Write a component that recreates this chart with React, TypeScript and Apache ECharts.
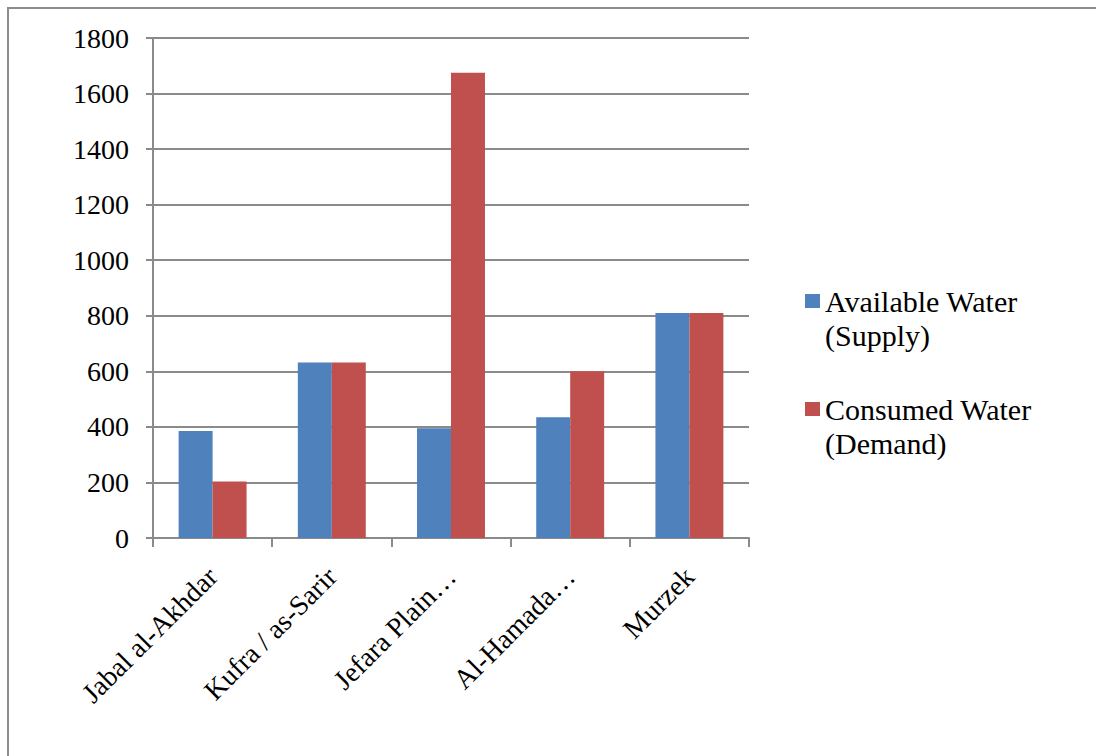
import React, { useEffect, useRef } from "react";
import * as echarts from "echarts";

const regions = ["Jabal al-Akhdar", "Kufra / as-Sarir", "Jefara Plain…", "Al-Hamada…", "Murzek"];
const supply = [385, 632, 395, 435, 810];
const demand = [203, 632, 1675, 600, 810];
const supplyName = "Available Water\n(Supply)";
const demandName = "Consumed Water\n(Demand)";

const FONT = "'Times New Roman', 'Liberation Serif', serif";
const GRID_GRAY = "#8a8a8a";

export default function App() {
  const ref = useRef<HTMLDivElement>(null);

  useEffect(() => {
    if (!ref.current) return;
    const chart = echarts.init(ref.current, undefined, { renderer: "svg" });
    chart.setOption({
      animation: false,
      backgroundColor: "#ffffff",
      textStyle: { fontFamily: FONT },
      graphic: [
        {
          type: "rect",
          shape: { x: 8, y: 8, width: 1100, height: 760 },
          style: { fill: "none", stroke: "#8c8c8c", lineWidth: 2 },
          silent: true,
        },
      ],
      grid: { left: 153, right: 347, top: 38, bottom: 218, containLabel: false },
      legend: {
        orient: "vertical",
        left: 800,
        top: 245,
        itemWidth: 15,
        itemHeight: 14,
        itemGap: 6,
        icon: "rect",
        // a leading blank line keeps the marker level with the first text line
        formatter: (name: string) => "\n" + name,
        textStyle: {
          fontFamily: FONT,
          fontSize: 30,
          lineHeight: 34,
          color: "#000",
        },
        data: [supplyName, demandName],
      },
      xAxis: {
        type: "category",
        data: regions,
        axisLine: { lineStyle: { color: GRID_GRAY, width: 2 } },
        axisTick: { show: true, length: 9, lineStyle: { color: GRID_GRAY, width: 2 } },
        axisLabel: {
          rotate: 45,
          interval: 0,
          margin: 34,
          fontFamily: FONT,
          fontSize: 28,
          color: "#000",
        },
      },
      yAxis: {
        type: "value",
        min: 0,
        max: 1800,
        interval: 200,
        axisLine: { show: true, lineStyle: { color: GRID_GRAY, width: 2 } },
        axisTick: { show: true, length: 7, lineStyle: { color: GRID_GRAY, width: 2 } },
        splitLine: { show: true, lineStyle: { color: GRID_GRAY, width: 2 } },
        axisLabel: {
          margin: 24,
          fontFamily: FONT,
          fontSize: 28,
          color: "#000",
          formatter: (v: number) => String(v),
        },
      },
      series: [
        {
          name: supplyName,
          type: "bar",
          data: supply,
          barGap: "0%",
          barCategoryGap: "43%",
          itemStyle: { color: "#4F81BD" },
        },
        {
          name: demandName,
          type: "bar",
          data: demand,
          barGap: "0%",
          barCategoryGap: "43%",
          itemStyle: { color: "#C0504D" },
        },
      ],
    });
    return () => chart.dispose();
  }, []);

  return (
    <div
      ref={ref}
      style={{ position: "absolute", left: 0, top: 0, width: 1096, height: 756 }}
    />
  );
}
